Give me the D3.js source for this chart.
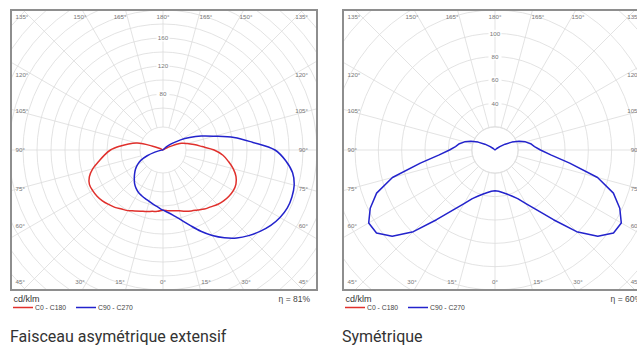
<!DOCTYPE html>
<html>
<head>
<meta charset="utf-8">
<script src="https://cdn.jsdelivr.net/npm/d3@7"></script>
<style>
body { margin: 0; background: #fff; }
svg { display: block; }
</style>
</head>
<body>
<svg id="chart" width="637" height="345"></svg>
<script>
// gamma angles, measured from nadir (0) to zenith (180)
const gammas = d3.range(0, 181, 5);
const angleLabels = [0, 15, 30, 45, 60, 75, 90, 105, 120, 135, 150, 165, 180];

// left diagram : asymmetric wide beam, cd/klm
const asymTicks = [80, 120, 160];
const asymGrid = d3.range(60, 301, 20);
const asymC0   = [86,87,88,90,93,96,99,103,106,110,113,115,116,115,111,104,95,86,73,56,45,36,28,14,5,1,0,0,0,0,0,0,0,0,0,0,0];
const asymC180 = [86,88,89,91,93,96,100,103,107,110,113,115,116,116,112,104,93,84,75,62,50,38,17,6,2,0,0,0,0,0,0,0,0,0,0,0,0];
const asymC90  = [86,90,96,104,115,128,141,153,164,173,181,188,193,196,196,194,188,176,160,128,103,76,58,42,29,17,9,4,1,0,0,0,0,0,0,0,0];
const asymC270 = [86,82,79,76,74,72,70,67,63,58,53,48,42,35,24,12,5,2,0,0,0,0,0,0,0,0,0,0,0,0,0,0,0,0,0,0,0];

// right diagram : symmetric batwing
const symTicks = [40, 60, 80, 100];
const symGrid = d3.range(20, 181, 20);
const symC90 = [35,35.5,37,39,42,46,53,63,78,99,115,124,125,118,108,91,65,48,39,34,31,27,22,16,10,5,2,0,0,0,0,0,0,0,0,0,0];

const svg = d3.select("#chart");

function diagram(o) {
  const g = svg.append("g");
  const cx = o.x + 152, cy = o.y + 140;
  const r = d3.scaleLinear().domain([0, o.max]).range([0, 140]);
  const r0 = 23;

  g.append("rect").attr("x", o.x).attr("y", o.y).attr("width", o.w).attr("height", o.h).attr("fill", "#fff");

  g.append("clipPath").attr("id", o.id).append("rect")
    .attr("x", o.x).attr("y", o.y).attr("width", o.w).attr("height", o.h);
  const grid = g.append("g").attr("clip-path", `url(#${o.id})`)
    .append("g").attr("transform", `translate(${cx},${cy})`)
    .attr("fill", "none").attr("stroke", "#dcdcdc").attr("stroke-width", 0.8);

  grid.selectAll("circle.ring").data(o.grid).join("circle")
    .attr("class", "ring").attr("r", d => r(d));
  grid.append("circle").attr("r", r0);

  grid.selectAll("line").data(d3.range(0, 360, 15)).join("line")
    .attr("x1", d => r0 * Math.sin(d * Math.PI / 180))
    .attr("y1", d => r0 * Math.cos(d * Math.PI / 180))
    .attr("x2", d => 260 * Math.sin(d * Math.PI / 180))
    .attr("y2", d => 260 * Math.cos(d * Math.PI / 180));

  // radial value labels
  const vl = g.selectAll("g.val").data(o.ticks).join("g").attr("class", "val")
    .attr("transform", d => `translate(${cx},${cy - r(d)})`);
  vl.append("rect").attr("x", -6.5).attr("y", -3.5).attr("width", 13).attr("height", 7).attr("fill", "#fff");
  vl.append("text").text(d => d).attr("text-anchor", "middle").attr("dy", "0.35em")
    .attr("font-family", "Liberation Sans, Arial, sans-serif").attr("font-size", 6.2).attr("fill", "#777");

  // curves
  const line = d3.lineRadial().angle(d => d.a).radius(d => r(d.v)).curve(o.curve);
  const plot = g.append("g").attr("clip-path", `url(#${o.id})`)
    .append("g").attr("transform", `translate(${cx},${cy})`);
  o.series.forEach(s => {
    const pts = [];
    for (let i = gammas.length - 1; i >= 0; i--) pts.push({a: Math.PI + gammas[i] * Math.PI / 180, v: s.left[i]});
    for (let i = 1; i < gammas.length; i++) pts.push({a: Math.PI - gammas[i] * Math.PI / 180, v: s.right[i]});
    plot.append("path").attr("d", line(pts))
      .attr("fill", "none").attr("stroke", s.color).attr("stroke-width", 1.5).attr("stroke-linejoin", "round");
  });

  // angle labels on the frame
  const labs = [];
  angleLabels.forEach(a => {
    const sides = (a === 0 || a === 180) ? [0] : [-1, 1];
    sides.forEach(s => labs.push({a, s}));
  });
  const topY = o.y + 6.5, botY = o.y + o.h - 8.3;
  function pos(d) {
    const a = d.a, s = d.s;
    const sideX = s < 0 ? o.x + 4.5 : o.x + o.w - 9;
    const anchor = s < 0 ? "start" : "end";
    if (a <= 30) return {x: cx + s * 166 * Math.sin(a * Math.PI / 180), y: botY, anchor: "middle"};
    if (a >= 150) return {x: cx + s * 166 * Math.sin((180 - a) * Math.PI / 180), y: topY, anchor: "middle"};
    if (a === 45) return {x: sideX, y: botY, anchor};
    if (a === 135) return {x: sideX, y: topY, anchor};
    return {x: sideX, y: cy - 151 * Math.sin((a - 90) * Math.PI / 180), anchor};
  }
  g.selectAll("text.ang").data(labs).join("text").attr("class", "ang")
    .each(function(d) {
      const p = pos(d);
      d3.select(this).attr("x", p.x).attr("y", p.y).attr("text-anchor", p.anchor);
    })
    .attr("dy", "0.35em").text(d => d.a + "°")
    .attr("font-family", "Liberation Sans, Arial, sans-serif").attr("font-size", 6.2).attr("fill", "#777");

  g.append("rect").attr("x", o.x).attr("y", o.y).attr("width", o.w).attr("height", o.h)
    .attr("fill", "none").attr("stroke", "#8e8e8e").attr("stroke-width", 2);

  // legend
  const lf = "Liberation Sans, Arial, sans-serif";
  g.append("text").attr("x", o.x + 2.5).attr("y", o.y + o.h + 12).text("cd/klm")
    .attr("font-family", lf).attr("font-size", 9).attr("fill", "#333");
  g.append("text").attr("x", o.x + o.w - 7).attr("y", o.y + o.h + 12).attr("text-anchor", "end")
    .text("η = " + o.eta + "%").attr("font-family", lf).attr("font-size", 8.5).attr("fill", "#444");
  const legend = [{name: "C0 - C180", color: "#e0302c", x: 2}, {name: "C90 - C270", color: "#2323cc", x: 65}];
  legend.forEach(l => {
    g.append("line").attr("x1", o.x + l.x).attr("x2", o.x + l.x + 20)
      .attr("y1", o.y + o.h + 17.5).attr("y2", o.y + o.h + 17.5)
      .attr("stroke", l.color).attr("stroke-width", 1.5);
    g.append("text").attr("x", o.x + l.x + 22).attr("y", o.y + o.h + 20).text(l.name)
      .attr("font-family", lf).attr("font-size", 6.8).attr("fill", "#444");
  });

  g.append("text").attr("x", o.x - 1).attr("y", 341.5).text(o.caption)
    .attr("font-family", "Roboto, sans-serif").attr("font-size", 16).attr("fill", "#333");
}

diagram({
  id: "clipA", x: 11, y: 10, w: 306, h: 280, max: 200,
  grid: asymGrid, ticks: asymTicks, eta: 81, curve: d3.curveCatmullRom,
  caption: "Faisceau asymétrique extensif",
  series: [
    {left: asymC180, right: asymC0, color: "#e0302c"},
    {left: asymC270, right: asymC90, color: "#2323cc"}
  ]
});

diagram({
  id: "clipB", x: 343, y: 10, w: 306, h: 280, max: 120,
  grid: symGrid, ticks: symTicks, eta: 60, curve: d3.curveLinear,
  caption: "Symétrique",
  series: [
    {left: symC90, right: symC90, color: "#2323cc"}
  ]
});
</script>
</body>
</html>
